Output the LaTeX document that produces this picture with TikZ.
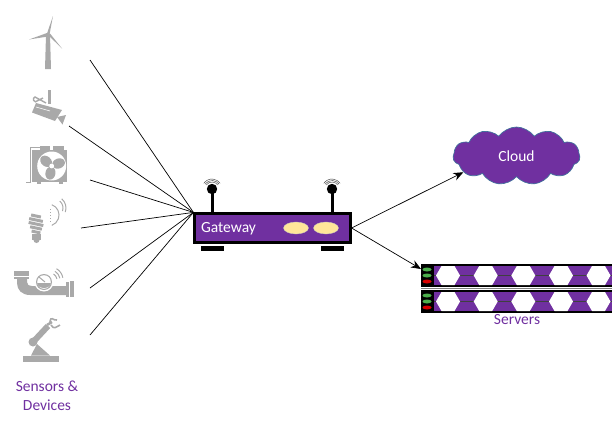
\documentclass[tikz,border=0pt]{standalone}
\usepackage{fontspec}
\setmainfont{Carlito}
\usetikzlibrary{arrows.meta,shapes.symbols,shapes.geometric}
\definecolor{violet}{HTML}{7030A0}
\definecolor{icongray}{HTML}{A9A9A9}
\definecolor{lamp}{HTML}{FFE699}
\definecolor{cloudedge}{HTML}{41719C}
\tikzset{
  icon/.style={fill=icongray, draw=none},
  iconline/.style={draw=icongray, line width=1pt},
  caption/.style={text=violet, font=\fontsize{15.5}{17}\selectfont, inner sep=0pt},
  rack/.style={draw=none, fill=black, minimum width=191pt, minimum height=23pt, inner sep=0pt},
  hexa/.style={fill=white, draw=none},
  wire/.style={line width=0.7pt},
  lampnode/.style={ellipse, fill=lamp, draw=black!25, line width=0.3pt, minimum width=25pt, minimum height=12pt, inner sep=0pt},
}
\begin{document}
\begin{tikzpicture}[x=1pt, y=-1pt, >={Stealth[length=10pt,width=8pt]}]
  \useasboundingbox (0,0) rectangle (613,423);
  % free ends of the device links
  \coordinate (d1) at (90,60);
  \coordinate (d2) at (69,126);
  \coordinate (d3) at (90,180);
  \coordinate (d4) at (81,228);
  \coordinate (d5) at (90,288);
  \coordinate (d6) at (90,335);
  \coordinate (srv) at (421,269);

  % links
  \node[draw=black, line width=2.2pt, fill=violet, minimum width=156pt, minimum height=29pt, inner sep=0pt] (gateway) at (272.5,228) {};
  \foreach \i in {1,...,6}
    \draw[wire] (d\i) -- (gateway.north west);

  % gateway
  \node[text=white, font=\fontsize{15.5}{17}\selectfont, inner sep=0pt] (gwlabel) at (228.5,229) {Gateway};
  \node[lampnode] (led1) at (296,228) {};
  \node[lampnode] (led2) at (326,228) {};
  \foreach \x in {212,332} {
    \fill[black] (\x-11,246) rectangle (\x+12,251);
    \draw[line width=3pt] (\x,213) -- (\x,189);
    \fill[black] (\x,189) circle (5.2);
    \foreach \r in {7,8.5,10}
      \draw[line width=0.4pt, black!80] (\x-\r*0.82,189-\r*0.57) arc (215:325:\r);
  }

  % cloud
  \node[cloud, cloud puffs=11, cloud puff arc=110, aspect=2.3, draw=cloudedge, line width=0.7pt, fill=violet, minimum width=127pt, minimum height=58pt, inner sep=0pt, text=white, font=\fontsize{15.5}{17}\selectfont] (cloud) at (516.5,156) {Cloud};
  \draw[->, wire] (gateway.east) -- (cloud.197);
  \draw[->, wire] (gateway.east) -- (srv);

  % servers
  \foreach \n/\y in {rackA/275.5,rackB/301.5} {
    \node[rack] (\n) at (516.5,\y) {};
    \fill[violet] (434,\y-9.5) rectangle (612,\y+9.5);
    \draw[line width=0.9pt, black!75] (434,\y) -- (612,\y);
    \foreach \x in {448,485.7,523.3,561,598.5}
      \fill[hexa] (\x-12,\y) -- (\x-6.5,\y-9.5) -- (\x+6.5,\y-9.5) -- (\x+12,\y) -- (\x+6.5,\y+9.5) -- (\x-6.5,\y+9.5) -- cycle;
    \fill[green!55!black!70] (427,\y-6) ellipse (4.5 and 2);
    \fill[green!55!black!70] (427,\y) ellipse (4.5 and 2);
    \fill[red!85!black] (427,\y+6) ellipse (4.5 and 2);
  }
  \draw[line width=0.8pt, black!50] (421,288.5) -- (612,288.5);
  \node[caption] (servers) at (517,320) {Servers};

  % wind turbine
  \fill[icon] (46,35) -- (50,35) -- (51,69) -- (45,69) -- cycle;
  \fill[icon] (47,33.5) -- (53,16) -- (49.5,34.5) -- cycle;
  \fill[icon] (47,33) -- (29,39.5) -- (48,36.5) -- cycle;
  \fill[icon] (48,35) -- (62,48.5) -- (50,33.5) -- cycle;
  \fill[icon] (48,35) circle (2.2);

  % camera
  \fill[icon] (48,90) rectangle (51,104);
  \draw[iconline, line width=1.4pt] (46,103) -- (35,97) arc (250:100:2.5) -- (43,98);
  \fill[icon] (36,103) -- (62,110) -- (55,121) -- (32,112.5) -- cycle;
  \fill[icon] (57,117) -- (66,115) -- (62.5,124.5) -- cycle;
  \draw[white, line width=0.6pt] (36,107) -- (50,111);

  % fan
  \fill[icon] (32,150) rectangle (67,182);
  \fill[icon] (40,146) rectangle (50,150);
  \fill[icon] (53,146) rectangle (64,150);
  \fill[icon] (37,182) rectangle (41,184);
  \fill[icon] (59,182) rectangle (63,184);
  \draw[iconline] (40,147) -- (30,147) -- (30,182) -- (26,182);
  \fill[white] (51.7,166) circle (14.5);
  \foreach \a in {20,140,260}
    \fill[icon, rotate around={\a:(51.7,166)}] (59,166) ellipse (6.5 and 5);
  \fill[white] (51.7,166) circle (2.4);

  % bulb
  \foreach \y/\w in {216/5,220/7,224/7.5,228/6,232/4.5}
    \fill[icon, rotate around={-12:(36,\y)}] (36-\w,\y-1.5) rectangle (36+\w,\y+1.5);
  \fill[icon] (32,234) rectangle (41,240);
  \fill[icon] (36.5,240) circle (3);
  \draw[iconline] (51.8,204.7) arc (-70:70:11);
  \draw[iconline, dotted] (50,209) -- (50,222);
  \draw[iconline] (59.8,201.1) arc (-50:20:9);
  \draw[iconline] (61.7,198.8) arc (-50:20:12);

  % pipe meter
  \fill[icon] (14,271) rectangle (29,275.5);
  \fill[icon] (14,277) rectangle (29,279);
  \fill[icon] (17,279) -- (27,279) -- (27,282) .. controls (27,285) and (29,286) .. (32,286) -- (66,286) -- (66,295) -- (30,295) .. controls (22,295) and (17,290) .. (17,283) -- cycle;
  \fill[icon] (66,282) rectangle (69,297);
  \fill[icon] (70,281) rectangle (74,297);
  \fill[white] (44,282) circle (9.5);
  \fill[icon] (44,282) circle (8);
  \fill[white] (44,282) circle (6.8);
  \fill[icon] (37.2,283) -- (50.8,283) arc (0:180:6.8 and 5) -- cycle;
  \draw[icongray, line width=1pt] (39,277) -- (45,282);
  \draw[iconline] (53.5,274) arc (-60:-10:7);
  \draw[iconline] (55,271.3) arc (-60:-10:10);
  \draw[iconline] (56.5,268.7) arc (-60:-10:13);

  % robot arm
  \fill[icon] (23,355.5) rectangle (59,361.5);
  \fill[icon] (31,355.5) -- (37,344) -- (50,355.5) -- cycle;
  \draw[icongray, line width=6pt] (34,341) -- (48,326);
  \fill[icon] (33,342) circle (4.5);
  \draw[icongray, line width=2.5pt] (47,325) -- (52,322);
  \draw[icongray, line width=1.6pt] (50,322) .. controls (51,315) and (53,321) .. (57,320);
  \draw[icongray, line width=1.6pt] (51,325) .. controls (54,330) and (56,327) .. (60,325);

  \node[caption] (sensors) at (47,386) {Sensors \&};
  \node[caption] (devices) at (47,405) {Devices};
\end{tikzpicture}
\end{document}
